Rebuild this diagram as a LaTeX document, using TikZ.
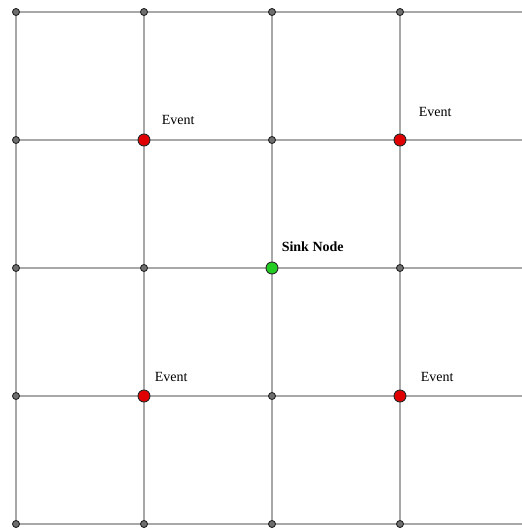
\documentclass[tikz,border=0pt]{standalone}
\usepackage{fontspec}
\setmainfont{Liberation Serif}
\usetikzlibrary{positioning}
\definecolor{gridgray}{HTML}{A8A8A8}
\definecolor{dotgray}{HTML}{6E6E6E}
\definecolor{eventred}{HTML}{E00000}
\definecolor{sinkgreen}{HTML}{22CC22}

\begin{document}
\begin{tikzpicture}[
        x=1pt, y=-1pt,
        grid line/.style={draw=gridgray, line width=1.6pt},
        sensor/.style={
            circle,
            draw=black!85,
            fill=dotgray,
            line width=0.9pt,
            inner sep=0pt,
            minimum size=7pt
        },
        event/.style={sensor, fill=eventred, minimum size=12pt},
        sink/.style={sensor, fill=sinkgreen, minimum size=12pt},
        tag/.style={inner sep=0pt, font=\fontsize{14}{16}\selectfont}
    ]
        \useasboundingbox (0,0) rectangle (522,528);

        % sensor positions
        \foreach \i/\x in {0/16,1/144,2/272,3/400}
            \foreach \j/\y in {0/12,1/140,2/268,3/396,4/524}
                \coordinate (p-\i-\j) at (\x,\y);
        \foreach \j/\y in {0/12,1/140,2/268,3/396,4/524}
            \coordinate (r-\j) at (522,\y);
        \foreach \i/\x in {0/16,1/144,2/272,3/400}
            \coordinate (b-\i) at (\x,528);

        % grid lines
        \foreach \j in {0,...,4}
            \draw[grid line] (p-0-\j) -- (r-\j);
        \foreach \i in {0,...,3}
            \draw[grid line] (p-\i-0) -- (b-\i);

        % plain sensors
        \foreach \i/\j in {0/0,1/0,2/0,3/0,0/1,2/1,0/2,1/2,3/2,0/3,2/3,0/4,1/4,2/4,3/4}
            \node[sensor] (n-\i-\j) at (p-\i-\j) {};

        % events and sink
        \node[event] (n-1-1) at (p-1-1) {};
        \node[event] (n-3-1) at (p-3-1) {};
        \node[event] (n-1-3) at (p-1-3) {};
        \node[event] (n-3-3) at (p-3-3) {};
        \node[sink] (n-2-2) at (p-2-2) {};

        \node[tag, above right=11pt and 13pt of n-1-1] (ev-a) {Event};
        \node[tag, above right=19pt and 14pt of n-3-1] (ev-b) {Event};
        \node[tag, above right=10pt and 6pt of n-1-3] (ev-c) {Event};
        \node[tag, above right=10pt and 16pt of n-3-3] (ev-d) {Event};
        \node[tag, font=\fontsize{14}{16}\selectfont\bfseries, above right=12pt and 5pt of n-2-2] (sink-tag) {Sink Node};
    \end{tikzpicture}
\end{document}
